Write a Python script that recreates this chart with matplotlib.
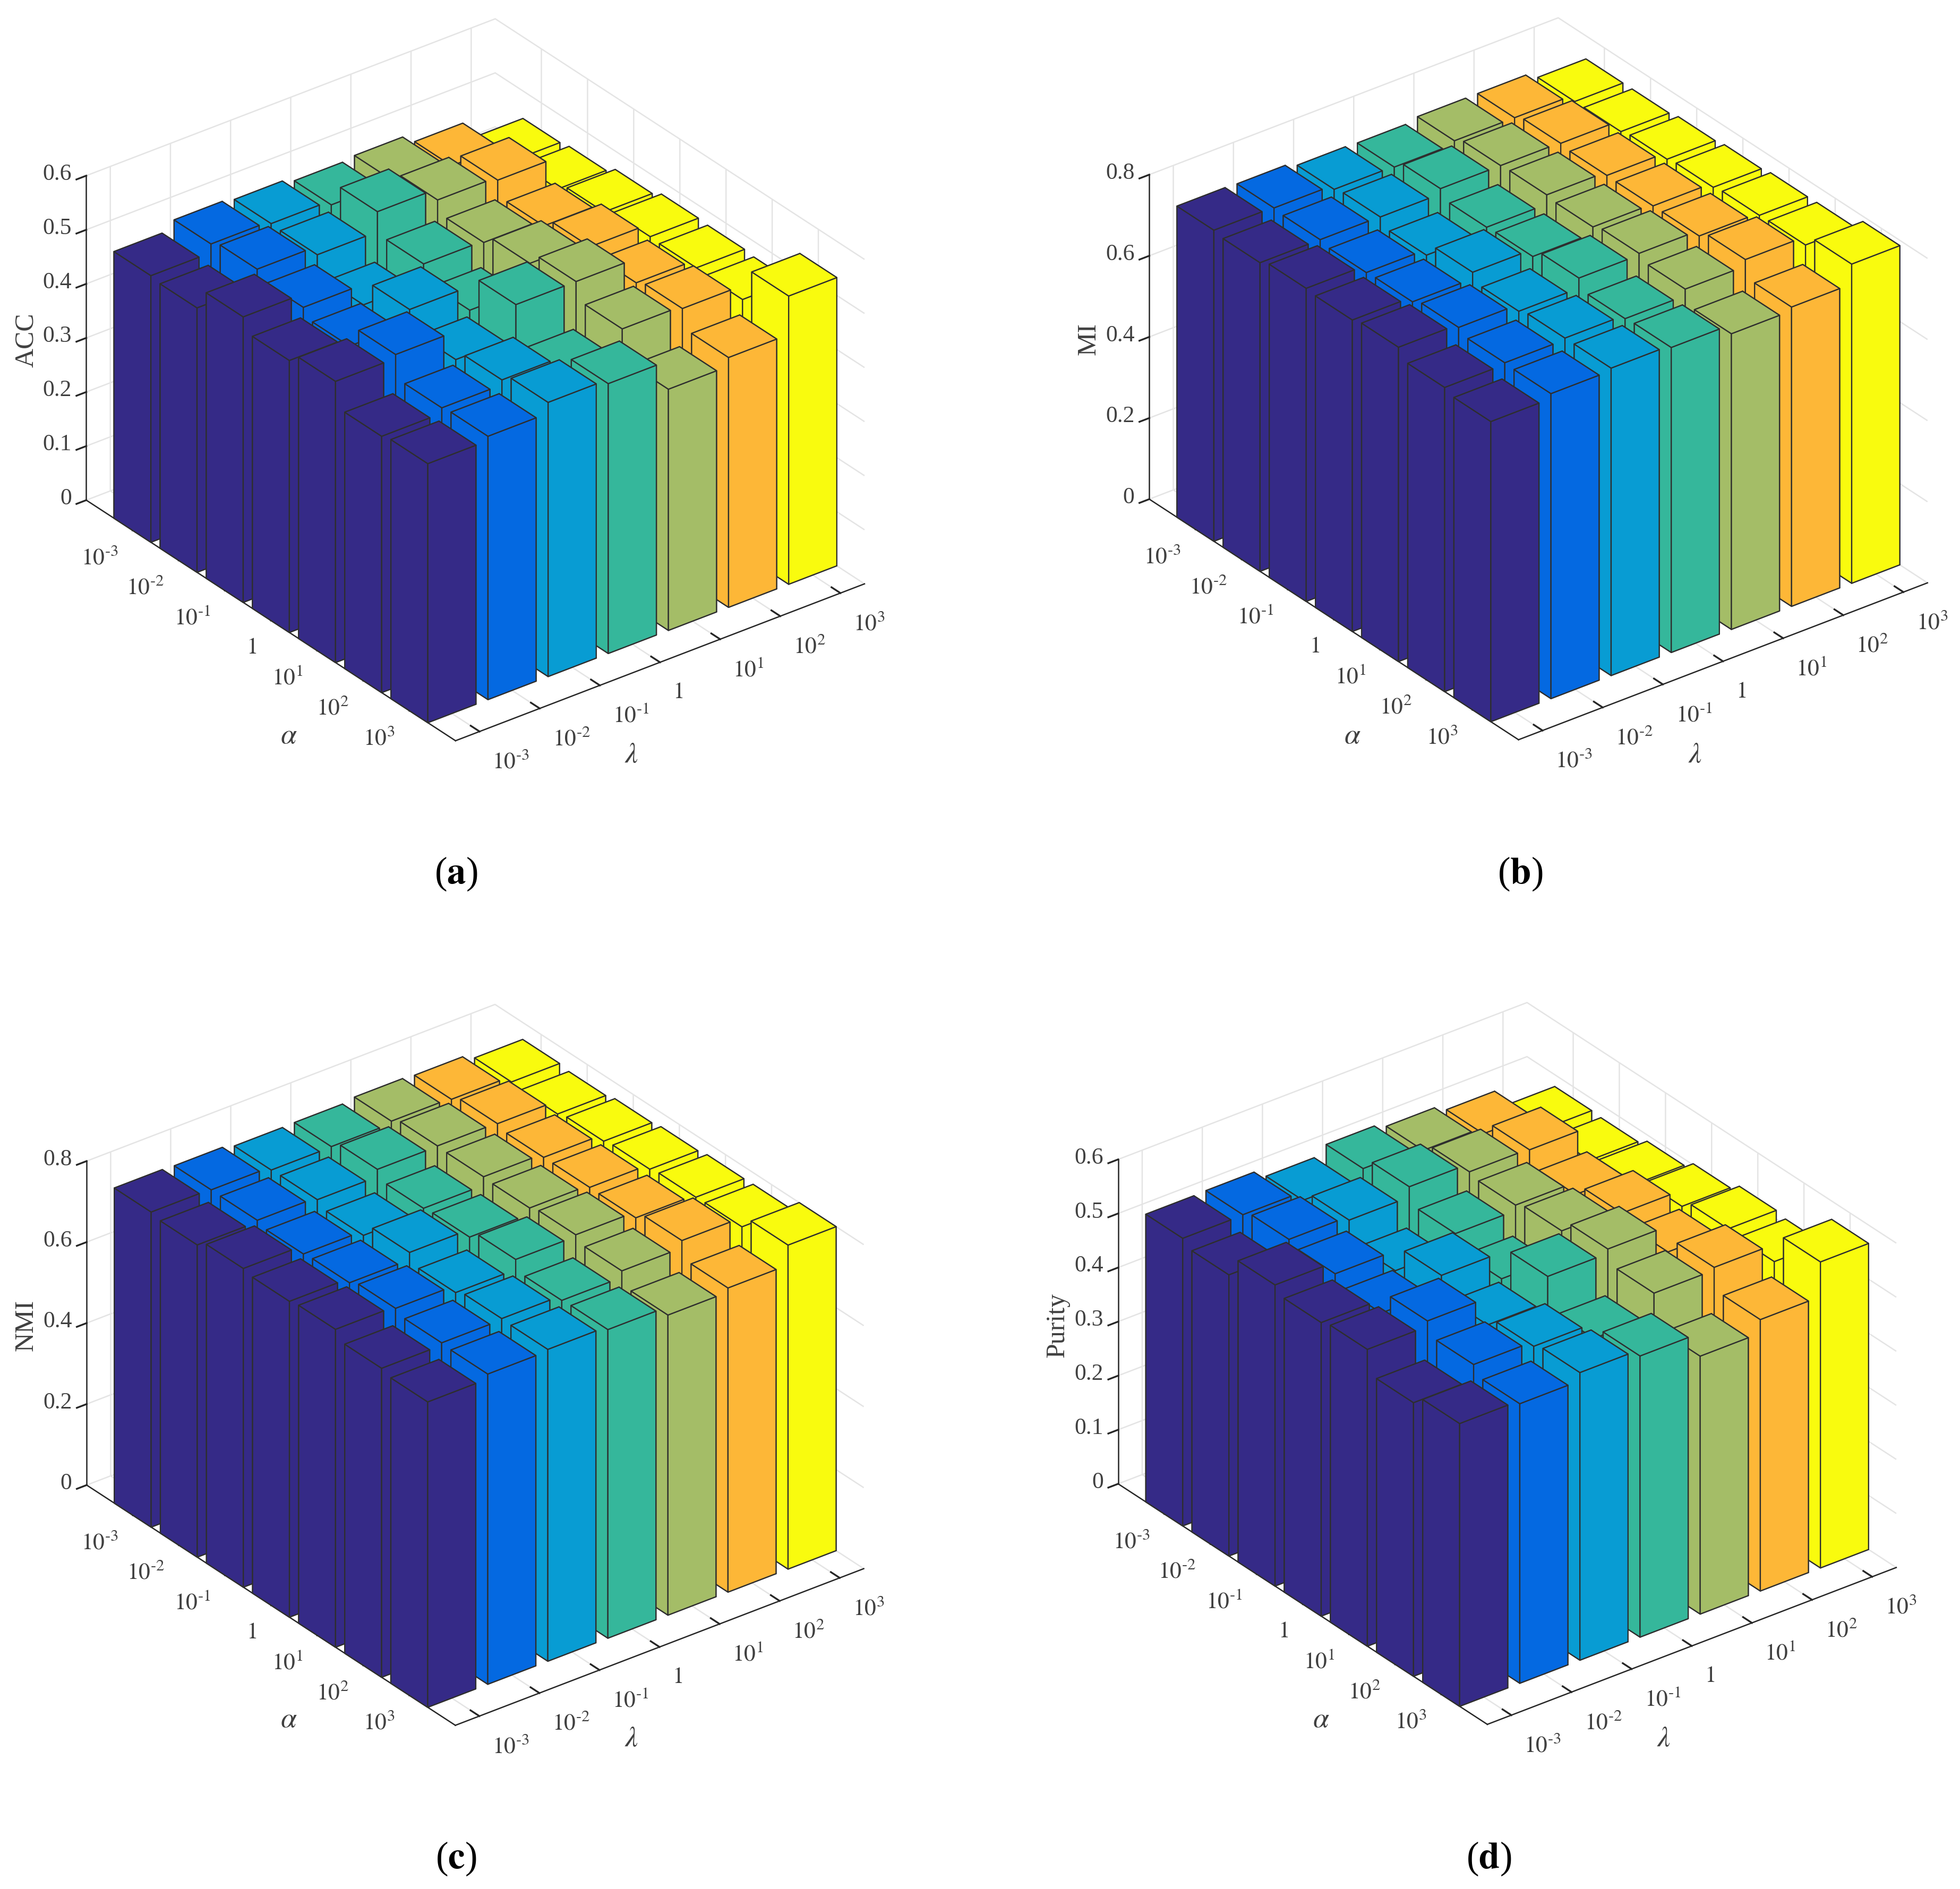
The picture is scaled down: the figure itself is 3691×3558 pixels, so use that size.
import numpy as np
import matplotlib
matplotlib.use('Agg')
import matplotlib.pyplot as plt
from mpl_toolkits.mplot3d import proj3d

plt.rcParams['font.family'] = ['Liberation Serif', 'DejaVu Serif']
plt.rcParams['mathtext.fontset'] = 'stix'
plt.rcParams['grid.color'] = '#e4e4e4'
plt.rcParams['grid.linewidth'] = 0.6
plt.rcParams['axes.linewidth'] = 0.6

W, H = 3691, 3558
SCALE = 3691 / 1568

# rows are alpha (1e-3 .. 1e3), columns are lambda (1e-3 .. 1e3)
acc = [[.493, .509, .504, .496, .500, .483, .449],
       [.489, .518, .502, .539, .518, .512, .453],
       [.528, .503, .465, .498, .495, .483, .466],
       [.503, .487, .512, .468, .512, .500, .476],
       [.520, .527, .475, .534, .534, .489, .474],
       [.474, .484, .493, .465, .502, .497, .471],
       [.479, .487, .507, .499, .446, .462, .533]]
mi = [[.767, .765, .754, .752, .760, .760, .743],
      [.761, .761, .760, .773, .773, .771, .743],
      [.772, .754, .740, .752, .775, .766, .749],
      [.768, .756, .772, .754, .770, .765, .754],
      [.775, .767, .750, .775, .779, .765, .759],
      [.750, .754, .758, .749, .765, .781, .760],
      [.740, .752, .758, .752, .729, .738, .787]]
nmi = [[.778, .776, .768, .769, .775, .772, .758],
       [.771, .775, .769, .787, .788, .786, .753],
       [.787, .766, .755, .765, .786, .777, .760],
       [.780, .769, .787, .768, .783, .777, .765],
       [.785, .780, .762, .787, .791, .776, .770],
       [.763, .769, .772, .760, .776, .794, .771],
       [.754, .766, .770, .762, .741, .751, .800]]
purity = [[.532, .533, .517, .533, .524, .512, .478],
          [.520, .543, .536, .555, .540, .538, .476],
          [.557, .535, .498, .524, .534, .511, .488],
          [.543, .518, .545, .496, .542, .532, .502],
          [.549, .559, .509, .556, .564, .516, .516],
          [.506, .534, .525, .497, .538, .543, .511],
          [.523, .517, .532, .520, .477, .502, .566]]

tick_labels = [r'$10^{\text{-}3}$', r'$10^{\text{-}2}$', r'$10^{\text{-}1}$', '$1$', '$10^{1}$', '$10^{2}$', '$10^{3}$']
colors = ['#352a87', '#0469e1', '#089cd3', '#35b79b', '#a4bd67', '#fdb737', '#f9fb0e']
edge = '#2e2e2e'
text_c = '#404040'

panels = [
    dict(z=acc, name='ACC', top=0.6, step=0.1, fmt=['0', '0.1', '0.2', '0.3', '0.4', '0.5', '0.6'],
         left=(69, 400.2), right=(691.6, 467.7), name_at=(21, 272), al=(231, 589), la=(505, 604), cap='a', cap_at=(365, 699)),
    dict(z=mi, name='MI', top=0.8, step=0.2, fmt=['0', '0.2', '0.4', '0.6', '0.8'],
         left=(919.4, 399.4), right=(1542, 467.3), name_at=(871, 271), al=(1082, 589), la=(1356, 604), cap='b', cap_at=(1216, 699)),
    dict(z=nmi, name='NMI', top=0.8, step=0.2, fmt=['0', '0.2', '0.4', '0.6', '0.8'],
         left=(69.3, 1188.3), right=(691, 1255), name_at=(21, 1060), al=(231, 1376), la=(505, 1391), cap='c', cap_at=(365, 1487)),
    dict(z=purity, name='Purity', top=0.6, step=0.1, fmt=['0', '0.1', '0.2', '0.3', '0.4', '0.5', '0.6'],
         left=(894.5, 1187.3), right=(1517, 1256), name_at=(846, 1060), al=(1057, 1376), la=(1331, 1391), cap='d', cap_at=(1191, 1487)),
]

fig = plt.figure(figsize=(W / 300, H / 300), dpi=300)


def fpos(p):
    return p[0] / 1568, 1 - p[1] / 1511


def corner_px(ax, x, y, z):
    ax.apply_aspect()
    xs, ys, _ = proj3d.proj_transform(x, y, z, ax.get_proj())
    return ax.transData.transform((xs, ys))


for p in panels:
    ax = fig.add_axes([0.1, 0.1, 0.4, 0.4], projection='3d', proj_type='ortho')
    ax.computed_zorder = False
    ax.view_init(elev=30, azim=-37.5)
    ax.set_box_aspect((1142, 970.5, 705.5))
    ax.set_xlim(0, 8)
    ax.set_ylim(0.6, 7.4)
    ax.set_zlim(0, p['top'])

    z = np.array(p['z'])
    order = 0
    # painter's order: far corner first, near corner (high alpha, low lambda) last
    for i in range(7):
        for j in range(6, -1, -1):
            order += 1
            ax.bar3d(i + 1 - 0.4, j + 1 - 0.4, 0, 0.8, 0.8, z[i, j], color=colors[j], shade=False,
                     edgecolor=edge, linewidth=0.55, zorder=order)

    ax.set_xticks(range(1, 8))
    ax.set_yticks(range(1, 8))
    ax.set_xticklabels(tick_labels, ha='right', va='top')
    ax.set_yticklabels(tick_labels, ha='left', va='top')
    zt = [round(k * p['step'], 1) for k in range(len(p['fmt']))]
    ax.set_zticks(zt)
    ax.set_zticklabels(p['fmt'], ha='right', va='center')
    ax.tick_params(labelsize=10.5, labelcolor=text_c, color='#262626', width=0.6)
    ax.tick_params(axis='x', pad=-1)
    ax.tick_params(axis='y', pad=-1)
    ax.tick_params(axis='z', pad=-4.2)
    ax.zaxis.set_ticks_position('lower')

    for axis in (ax.xaxis, ax.yaxis, ax.zaxis):
        axis.set_pane_color((1, 1, 1, 0))
        axis.pane.set_edgecolor('#e4e4e4')
        axis.pane.set_linewidth(0.6)
        axis.line.set_color('#262626')
        axis.line.set_linewidth(0.6)
        axis._axinfo['tick']['inward_factor'] = 0.0
        axis._axinfo['tick']['outward_factor'] = 0.3
    # the sign flips once the z axis is moved to the lower side
    ax.zaxis._axinfo['tick']['inward_factor'] = 0.3
    ax.zaxis._axinfo['tick']['outward_factor'] = 0.0

    # move the square axes so the floor corners land where they are in the reference
    x0, x1 = ax.get_xlim()
    y0, y1 = ax.get_ylim()
    for _ in range(3):
        a = corner_px(ax, x0, y0, 0)
        b = corner_px(ax, x1, y1, 0)
        box = ax.get_position()
        size = box.width * W * (p['right'][0] - p['left'][0]) * SCALE / (b[0] - a[0])
        ax.set_position([box.x0, box.y0, size / W, size / H])
        a = corner_px(ax, x0, y0, 0)
        box = ax.get_position()
        tx = p['left'][0] * SCALE
        ty = H - p['left'][1] * SCALE
        ax.set_position([box.x0 + (tx - a[0]) / W, box.y0 + (ty - a[1]) / H, box.width, box.height])

    fig.text(*fpos(p['name_at']), p['name'], rotation=90, fontsize=12, color=text_c, ha='center', va='center')
    fig.text(*fpos(p['al']), r'$\alpha$', fontsize=13, color=text_c, ha='center', va='center')
    fig.text(*fpos(p['la']), r'$\lambda$', fontsize=13, color=text_c, ha='center', va='center')
    fig.text(*fpos(p['cap_at']), '(' + r'$\mathbf{' + p['cap'] + '}$' + ')', fontsize=17, color='black',
             ha='center', va='center')

fig.savefig('out.png', dpi=300)
